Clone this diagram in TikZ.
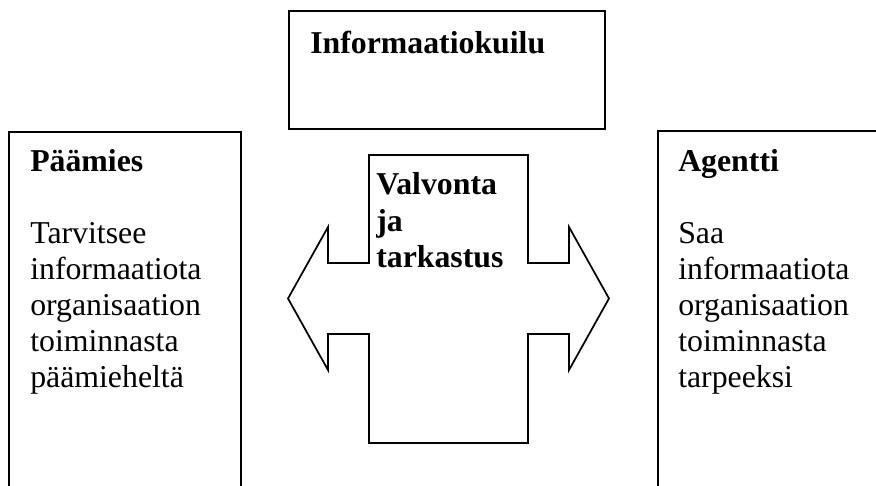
\documentclass[tikz,border=0pt]{standalone}
\usepackage{fontspec}
\setmainfont{Liberation Serif}
\begin{document}
\begin{tikzpicture}[x=0.75pt,y=-0.75pt,
  boxline/.style={line width=1.6pt,line join=miter},
  crossline/.style={line width=1.3pt,line join=miter},
  head/.style={anchor=base west,inner sep=0pt,font=\fontsize{23.85pt}{27pt}\selectfont\bfseries},
  body/.style={anchor=base west,inner sep=0pt,font=\fontsize{23.85pt}{27pt}\selectfont}]
\useasboundingbox (0,0) rectangle (876,486);
% top box
\draw[boxline] (289,11) rectangle (605,129);
\node[head] (tInfo) at (310,53) {Informaatiokuilu};
% left box (open at bottom edge)
\draw[boxline] (9,486) -- (9,132) -- (241,132) -- (241,486);
\node[head] (tPaa) at (30,171) {Päämies};
\node[body] (l1) at (30,243) {Tarvitsee};
\node[body] (l2) at (30,279) {informaatiota};
\node[body] (l3) at (30,315) {organisaation};
\node[body] (l4) at (30,351) {toiminnasta};
\node[body] (l5) at (30,387) {päämieheltä};
% right box (open at bottom and right)
\draw[boxline] (658,486) -- (658,131) -- (876,131);
\node[head] (tAg) at (678,171) {Agentti};
\node[body] (r1) at (678,243) {Saa};
\node[body] (r2) at (678,279) {informaatiota};
\node[body] (r3) at (678,315) {organisaation};
\node[body] (r4) at (678,351) {toiminnasta};
\node[body] (r5) at (678,387) {tarpeeksi};
% cross double arrow
\draw[crossline] (369,155) -- (528,155) -- (528,263) -- (569,263) -- (569,227)
  -- (609,298.5) -- (569,370) -- (569,334) -- (528,334) -- (528,443) -- (369,443)
  -- (369,334) -- (328,334) -- (328,370) -- (288,298.5) -- (328,227) -- (328,263)
  -- (369,263) -- cycle;
\node[head] (c1) at (376,194) {Valvonta};
\node[head] (c2) at (376,231) {ja};
\node[head] (c3) at (376,267) {tarkastus};
\end{tikzpicture}
\end{document}
